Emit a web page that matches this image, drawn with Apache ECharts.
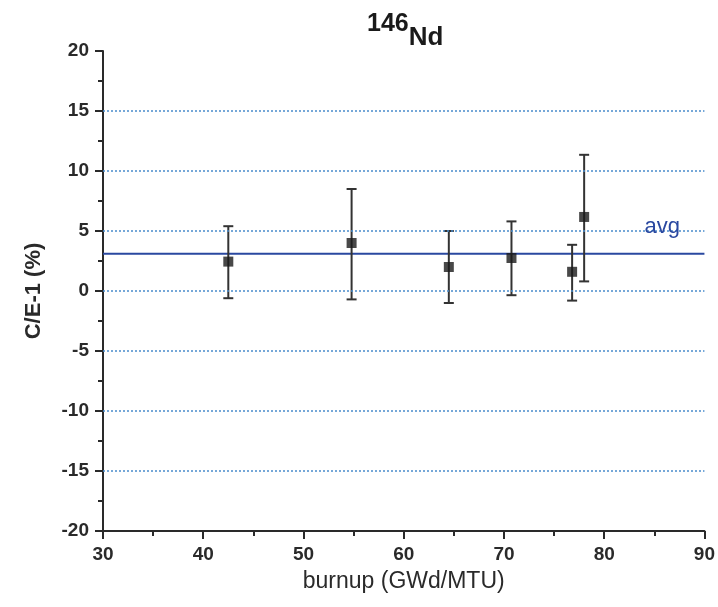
<!DOCTYPE html>
<html><head><meta charset="utf-8">
<script src="https://cdn.jsdelivr.net/npm/echarts@6/dist/echarts.min.js"></script>
<style>html,body{margin:0;padding:0;background:#fff}#c{width:718px;height:607px}</style>
</head><body><div id="c"></div>
<script>
const burnup = [42.5, 54.8, 64.5, 70.75, 76.8, 78.0];
const ceValue = [2.45, 4.0, 2.0, 2.75, 1.6, 6.17];
const errLow = [-0.6, -0.7, -1.0, -0.35, -0.8, 0.8];
const errHigh = [5.4, 8.5, 5.0, 5.8, 3.85, 11.35];
const avgValue = 3.1;
const gridValues = [15, 10, 5, 0, -5, -10, -15];
const titleSup = '146';
const titleMain = 'Nd';

const chart = echarts.init(document.getElementById('c'));
const pts = burnup.map((x, i) => [x, ceValue[i]]);
const bars = burnup.map((x, i) => [x, errLow[i], errHigh[i]]);
const axisColor = '#2a2a2a';
const font = 'Liberation Sans, Arial, sans-serif';
chart.setOption({
  animation: false,
  title: {
    text: '{a|' + titleSup + '}{b|' + titleMain + '}',
    left: 362, top: 6,
    textStyle: {
      rich: {
        a: {fontSize: 25, fontWeight: 'bold', fontFamily: font, color: '#1a1a1a', padding: [0,0,14,0]},
        b: {fontSize: 26, fontWeight: 'bold', fontFamily: font, color: '#1a1a1a', padding: [14,0,0,0]}
      }
    }
  },
  grid: {left: 103, right: 11, top: 51, bottom: 76, containLabel: false},
  xAxis: {
    type: 'value', min: 30, max: 90, interval: 10,
    name: 'burnup (GWd/MTU)', nameLocation: 'middle', nameGap: 39,
    nameTextStyle: {fontSize: 23, fontFamily: font, color: '#2a2a2a'},
    axisLine: {onZero: false, lineStyle: {color: axisColor, width: 2}},
    axisTick: {show: true, length: 8, lineStyle: {color: axisColor, width: 2}},
    minorTick: {show: true, splitNumber: 2, length: 5, lineStyle: {color: axisColor, width: 2}},
    axisLabel: {fontSize: 19, fontWeight: 'bold', fontFamily: font, color: '#2a2a2a', margin: 14},
    splitLine: {show: false}
  },
  yAxis: {
    type: 'value', min: -20, max: 20, interval: 5,
    name: 'C/E-1 (%)', nameLocation: 'middle', nameGap: 58, nameRotate: 90,
    nameTextStyle: {fontSize: 22, fontWeight: 'bold', fontFamily: font, color: '#2a2a2a'},
    axisLine: {show: true, onZero: false, lineStyle: {color: axisColor, width: 2}},
    axisTick: {show: true, length: 8, lineStyle: {color: axisColor, width: 2}},
    minorTick: {show: true, splitNumber: 2, length: 5, lineStyle: {color: axisColor, width: 2}},
    axisLabel: {fontSize: 19, fontWeight: 'bold', fontFamily: font, color: '#2a2a2a', margin: 14},
    splitLine: {show: false}
  },
  series: [
    {
      type: 'line', data: [], z: 1,
      markLine: {
        silent: true, symbol: 'none', label: {show: false},
        lineStyle: {color: '#4a8ccc', type: [2, 2], width: 1.5},
        data: gridValues.map(v => ({yAxis: v}))
      }
    },
    {
      type: 'line', data: [[30, avgValue], [90, avgValue]], symbol: 'none',
      lineStyle: {color: '#2a48a0', width: 2}, z: 2,
      markPoint: {
        symbol: 'rect', symbolSize: 1, itemStyle: {color: 'transparent'},
        data: [{coord: [85.8, 5.3], value: 'avg'}],
        label: {show: true, formatter: 'avg', color: '#2a48a0', fontSize: 22, fontFamily: font}
      }
    },
    {
      type: 'custom', z: 3,
      renderItem: function (params, api) {
        const x = api.value(0);
        const lo = api.coord([x, api.value(1)]);
        const hi = api.coord([x, api.value(2)]);
        const w = 5;
        const st = {stroke: '#333', lineWidth: 2};
        return {type: 'group', children: [
          {type: 'line', shape: {x1: lo[0], y1: lo[1], x2: hi[0], y2: hi[1]}, style: st},
          {type: 'line', shape: {x1: lo[0]-w, y1: lo[1], x2: lo[0]+w, y2: lo[1]}, style: st},
          {type: 'line', shape: {x1: hi[0]-w, y1: hi[1], x2: hi[0]+w, y2: hi[1]}, style: st}
        ]};
      },
      encode: {x: 0, y: [1, 2]},
      data: bars
    },
    {
      type: 'scatter', data: pts, symbol: 'rect', symbolSize: 10, z: 4,
      itemStyle: {color: '#1a1a1a'}
    }
  ]
});
</script></body></html>
